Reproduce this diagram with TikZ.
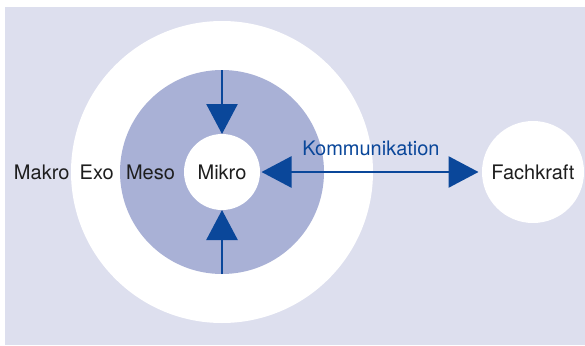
\documentclass[tikz,border=0pt]{standalone}
\usepackage{fontspec}
\setmainfont{TeX Gyre Heros}
\usetikzlibrary{arrows.meta,positioning}

\definecolor{bgblue}{HTML}{DDDFEE}
\definecolor{mesoblue}{HTML}{A9B1D6}
\definecolor{arrowblue}{HTML}{0A479A}
\definecolor{textgray}{HTML}{1E1E1E}

\tikzset{
  ring/.style={circle,fill=#1,inner sep=0pt,outer sep=0pt},
  lbl/.style={inner sep=0pt,text=textgray,font=\fontsize{20}{24}\selectfont},
  tip/.style={Triangle[length=30pt,width=31pt]},
  flow/.style={color=arrowblue,line width=2.6pt,-{Triangle[length=30pt,width=31pt]}}
}

\begin{document}
\begin{tikzpicture}[x=1pt,y=-1pt,node distance=311pt,on grid]
   \useasboundingbox (0,0) rectangle (585,345);
   \fill[bgblue] (4.5,7.5) rectangle (585,345);

   % circles
   \node[ring=white,minimum size=302pt] (exo) at (222,172) {};
   \node[ring=mesoblue,minimum size=204pt] (meso) at (222,172) {};
   \node[ring=white,minimum size=76pt,lbl] (mikro) at (222,172) {Mikro};
   \node[ring=white,minimum size=102pt,lbl] (fach) [right=of mikro] {Fachkraft};

   % level labels
   \node[lbl] (makrotxt) at (41.7,172) {Makro};
   \node[lbl] (exotxt) at (96.7,172) {Exo};
   \node[lbl] (mesotxt) at (150.5,172) {Meso};

   \draw[flow] (meso.north) -- (mikro);
   \draw[flow] (meso.south) -- (mikro);

   \draw[flow,{Triangle[length=30pt,width=31pt]}-{Triangle[length=30pt,width=31pt]},shorten >=3.5pt,shorten <=1.5pt]
     (mikro) -- node[lbl,text=arrowblue,above=15pt] {Kommunikation} (fach);
\end{tikzpicture}
\end{document}
